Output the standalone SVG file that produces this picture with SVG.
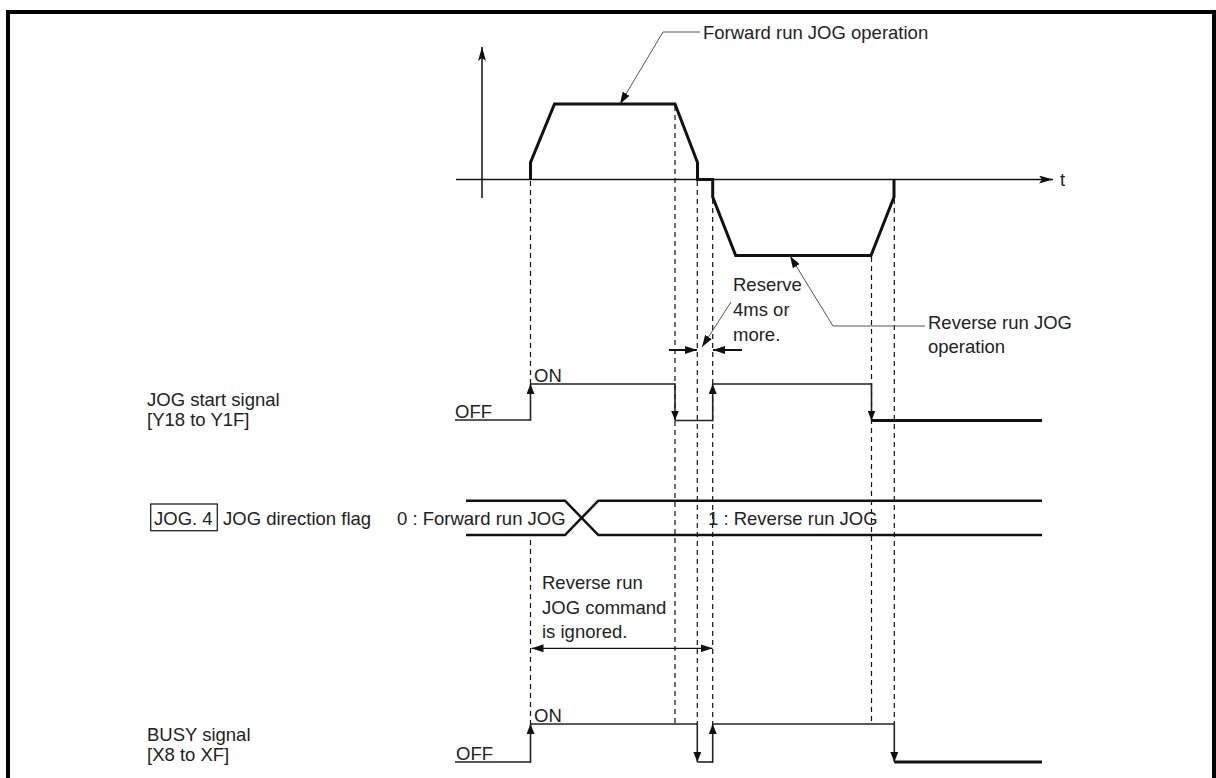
<svg xmlns="http://www.w3.org/2000/svg" width="1216" height="778" viewBox="0 0 1216 778">
<defs>
<marker id="ah" viewBox="0 0 10 8" refX="10" refY="4" markerWidth="10" markerHeight="8" markerUnits="userSpaceOnUse" orient="auto"><path d="M0,0 L10,4 L0,8 z" fill="#111"/></marker>
<marker id="ahBig" viewBox="0 0 14 8" refX="14" refY="4" markerWidth="14" markerHeight="8" markerUnits="userSpaceOnUse" orient="auto"><path d="M0,0 L14,4 L0,8 L3,4 z" fill="#111"/></marker>
<marker id="ahLead" viewBox="0 0 12 8" refX="12" refY="4" markerWidth="12" markerHeight="8" markerUnits="userSpaceOnUse" orient="auto"><path d="M0,0 L12,4 L0,8 z" fill="#111"/></marker>
<style>
text{font-family:"Liberation Sans",Arial,sans-serif;font-size:18.5px;fill:#222}
.sig{fill:none;stroke:#222;stroke-width:1.6}
.sigT{fill:none;stroke:#111;stroke-width:3}
.prof{fill:none;stroke:#111;stroke-width:3;stroke-linejoin:miter}
.axis{fill:none;stroke:#111;stroke-width:1.5}
.dash{fill:none;stroke:#111;stroke-width:1.2;stroke-dasharray:5,4}
.lead{fill:none;stroke:#555;stroke-width:1}
.bus{fill:none;stroke:#111;stroke-width:2.5}
</style>
</defs>
<rect width="1216" height="778" fill="#fff"/>
<g id="frame"><path d="M8,778 V12 H1214 V778" fill="none" stroke="#000" stroke-width="4"/></g>

<g id="axes">
<line class="axis" x1="482" y1="198" x2="482" y2="47" marker-end="url(#ahBig)"/>
<line class="axis" x1="456" y1="179.5" x2="1053" y2="179.5" marker-end="url(#ahBig)"/>
<text x="1060" y="186">t</text>
</g>

<g id="profile">
<polyline class="prof" points="530.5,179.5 530.5,162.5 554.5,104 675,104 697.5,162.5 697.5,179.5 712.7,179.5 712.7,197 735.7,255.5 871,255.5 894,197 894,179.5"/>
</g>

<g id="connectors">
<line class="dash" x1="530.5" y1="181" x2="530.5" y2="384"/>
<line class="dash" x1="530.5" y1="540" x2="530.5" y2="724"/>
<line class="dash" x1="675" y1="106" x2="675" y2="724"/>
<line class="dash" x1="697.3" y1="181" x2="697.3" y2="724"/>
<line class="dash" x1="712.7" y1="199" x2="712.7" y2="724"/>
<line class="dash" x1="871.5" y1="257" x2="871.5" y2="724"/>
<line class="dash" x1="894.3" y1="199" x2="894.3" y2="724"/>
<polyline class="lead" points="700,32 663,32 620,104" marker-end="url(#ahLead)"/>
<polyline class="lead" points="925,326 833,326 790,256" marker-end="url(#ahLead)"/>
<line class="lead" x1="731" y1="302" x2="702" y2="347" marker-end="url(#ahLead)"/>
<line x1="669" y1="350" x2="697" y2="350" stroke="#111" stroke-width="2" marker-end="url(#ahLead)"/>
<line x1="742" y1="350" x2="713" y2="350" stroke="#111" stroke-width="2" marker-end="url(#ahLead)"/>
<line x1="622" y1="648.3" x2="531.5" y2="648.3" stroke="#111" stroke-width="1.2" marker-end="url(#ahLead)"/>
<line x1="622" y1="648.3" x2="712.5" y2="648.3" stroke="#111" stroke-width="1.2" marker-end="url(#ahLead)"/>
</g>

<g id="labels-velocity">
<text x="703" y="39">Forward run JOG operation</text>
<text x="733" y="291">Reserve</text>
<text x="733" y="316">4ms or</text>
<text x="733" y="341">more.</text>
<text x="928" y="329">Reverse run JOG</text>
<text x="928" y="353">operation</text>
</g>

<g id="jog-start-signal">
<text x="147" y="406">JOG start signal</text>
<text x="147" y="426">[Y18 to Y1F]</text>
<text x="455" y="417.5">OFF</text>
<text x="534" y="381.5">ON</text>
<line class="sig" x1="455" y1="420" x2="530.5" y2="420"/>
<line class="sig" x1="530.5" y1="420.8" x2="530.5" y2="384" marker-end="url(#ah)"/>
<line class="sig" x1="530.5" y1="384" x2="675" y2="384"/>
<line class="sig" x1="675" y1="383.2" x2="675" y2="420.5" marker-end="url(#ah)"/>
<line class="sig" x1="675" y1="420.5" x2="712.7" y2="420.5"/>
<line class="sig" x1="712.7" y1="421.3" x2="712.7" y2="384" marker-end="url(#ah)"/>
<line class="sig" x1="712.7" y1="384" x2="871.5" y2="384"/>
<line class="sig" x1="871.5" y1="383.2" x2="871.5" y2="420.5" marker-end="url(#ah)"/>
<line class="sigT" x1="871.5" y1="420.5" x2="1042" y2="420.5"/>
</g>

<g id="jog-direction-flag">
<rect x="150.7" y="504" width="66.6" height="26.7" fill="none" stroke="#222" stroke-width="1.3"/>
<text x="154" y="525">JOG. 4</text>
<text x="223" y="525">JOG direction flag</text>
<text x="397" y="525">0 : Forward run JOG</text>
<text x="708" y="525">1 : Reverse run JOG</text>
<polyline class="bus" points="466,500.7 565,500.7 598.3,535 1042,535"/>
<polyline class="bus" points="466,535 565,535 598.3,500.7 1042,500.7"/>
</g>

<g id="ignored-note">
<text x="542" y="589">Reverse run</text>
<text x="542" y="614">JOG command</text>
<text x="542" y="638">is ignored.</text>
</g>

<g id="busy-signal">
<text x="147" y="741">BUSY signal</text>
<text x="147" y="761">[X8 to XF]</text>
<text x="456" y="759.5">OFF</text>
<text x="534" y="721.5">ON</text>
<line class="sig" x1="455" y1="762" x2="530.5" y2="762"/>
<line class="sig" x1="530.5" y1="762.8" x2="530.5" y2="724" marker-end="url(#ah)"/>
<line class="sig" x1="530.5" y1="724" x2="697.3" y2="724"/>
<line class="sig" x1="697.3" y1="723.2" x2="697.3" y2="762" marker-end="url(#ah)"/>
<line class="sig" x1="697.3" y1="762" x2="712.7" y2="762"/>
<line class="sig" x1="712.7" y1="762.8" x2="712.7" y2="724" marker-end="url(#ah)"/>
<line class="sig" x1="712.7" y1="724" x2="894.3" y2="724"/>
<line class="sig" x1="894.3" y1="723.2" x2="894.3" y2="762" marker-end="url(#ah)"/>
<line class="sigT" x1="894.3" y1="762" x2="1042" y2="762"/>
</g>
</svg>
